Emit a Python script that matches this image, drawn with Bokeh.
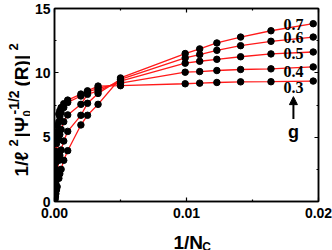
import numpy as np
from bokeh.plotting import figure
from bokeh.layouts import row, column
from bokeh.models import Range1d, FixedTicker, LinearAxis, Label, Arrow, NormalHead, PrintfTickFormatter
from bokeh.embed import file_html
from bokeh.resources import INLINE

# ---- data ----
inv_nc = [0.0196, 0.0164, 0.0141, 0.0123, 0.0110, 0.0099, 0.0050, 0.0033, 0.0025,
          0.0020, 0.0010, 0.0007, 0.0005, 0.0004, 0.00033, 0.0002, 0.00015, 0.0001,
          0.00007, 0.00005, 0.00003, 0.00001]
g_labels = ["0.3", "0.4", "0.5", "0.6", "0.7"]
g03 = [9.36, 9.31, 9.30, 9.25, 9.20, 9.15, 9.00, 8.97, 8.60, 8.35, 7.88, 7.60, 7.30, 7.05, 6.80, 5.90, 5.40, 4.60, 3.90, 3.20, 2.20, 0.90]
g04 = [10.46, 10.31, 10.26, 10.18, 10.10, 10.05, 9.20, 8.80, 8.50, 8.20, 7.70, 7.30, 6.90, 6.60, 6.20, 5.10, 4.50, 3.70, 3.00, 2.40, 1.60, 0.60]
g05 = [11.62, 11.47, 11.25, 11.05, 10.90, 10.75, 9.35, 8.60, 8.33, 7.55, 6.73, 6.20, 5.60, 5.20, 4.80, 3.70, 3.20, 2.50, 1.90, 1.50, 0.95, 0.35]
g06 = [12.78, 12.45, 12.11, 11.75, 11.42, 11.16, 9.50, 8.40, 7.63, 6.70, 5.45, 4.70, 4.00, 3.60, 3.20, 2.30, 1.90, 1.40, 1.05, 0.80, 0.50, 0.18]
g07 = [13.82, 13.27, 12.78, 12.32, 11.86, 11.50, 9.60, 7.55, 6.70, 5.95, 3.95, 3.20, 2.50, 2.15, 1.80, 1.15, 0.90, 0.60, 0.42, 0.30, 0.18, 0.07]
series = [g03, g04, g05, g06, g07]
x_ticks = [0.0, 0.01, 0.02]
x_minor = [0.005, 0.015]
y_ticks = [0, 5, 10, 15]
y_minor = [2.5, 7.5, 12.5]

# ---- layout sizes (page origin is the top-left of the window) ----
TW, TH = 332, 250
YW = 30                 # width of the y-title strip
MW, MH = TW - YW, 221   # main figure
BL, BR, BT, BB = 24, 14, 8, 20
XH = TH - MH            # height of the x-title strip
X0, X1, Y0, Y1 = 0.0, 0.02, 0.0, 15.0

p = figure(width=MW, height=MH, output_backend="svg", toolbar_location=None,
           x_range=Range1d(X0, X1), y_range=Range1d(Y0, Y1),
           min_border_left=BL, min_border_right=BR, min_border_top=BT, min_border_bottom=BB,
           x_axis_type=None, y_axis_type=None)
p.grid.visible = False
p.outline_line_color = "black"
p.outline_line_width = 1.5
p.background_fill_color = "white"
p.border_fill_color = "white"

def make_axis(show_labels, ticks, minor):
    ax = LinearAxis()
    ax.ticker = FixedTicker(ticks=ticks, minor_ticks=minor)
    ax.axis_line_width = 1.5
    ax.major_tick_in = 4
    ax.major_tick_out = 0
    ax.minor_tick_in = 2
    ax.minor_tick_out = 0
    ax.major_tick_line_width = 1.2
    ax.minor_tick_line_width = 1.2
    ax.major_label_text_font = "Liberation Sans"
    ax.major_label_text_font_style = "bold"
    ax.major_label_text_font_size = "14px"
    ax.major_label_text_color = "black"
    if not show_labels:
        ax.major_label_overrides = {t: "" for t in ticks}
    return ax

xb = make_axis(True, x_ticks, x_minor)
xb.formatter = PrintfTickFormatter(format="%.2f")
xb.major_label_standoff = 6
p.add_layout(xb, "below")
yl = make_axis(True, y_ticks, y_minor)
yl.major_label_standoff = 4
p.add_layout(yl, "left")
p.add_layout(make_axis(False, x_ticks, x_minor), "above")
p.add_layout(make_axis(False, y_ticks, y_minor), "right")

for ys in series:
    p.line(inv_nc, ys, line_color="#ff1a1a", line_width=1.3)
for ys in series:
    p.scatter(inv_nc, ys, size=6.5, fill_color="black", line_color="black")

# series labels
label_y = [8.89, 10.13, 11.54, 12.76, 13.74]
for txt, ly in zip(g_labels, label_y):
    p.add_layout(Label(x=0.0181, y=ly, text=txt, text_align="center", text_baseline="middle",
                       text_font="Liberation Serif", text_font_style="bold",
                       text_font_size="16px", text_color="black"))

p.add_layout(Arrow(end=NormalHead(size=8, fill_color="black", line_color="black", line_width=1),
                   x_start=0.0181, y_start=6.42, x_end=0.0181, y_end=8.15,
                   line_color="black", line_width=2))
p.add_layout(Label(x=0.0181, y=5.4, text="g", text_align="center", text_baseline="middle",
                   text_font="Liberation Sans", text_font_style="bold",
                   text_font_size="18px", text_color="black"))

# ---- title strips (figures whose frame is their whole canvas, pixel ranges) ----
def strip(w, h):
    f = figure(width=w, height=h, output_backend="svg", toolbar_location=None,
               x_range=Range1d(0, w), y_range=Range1d(0, h),
               min_border=0, x_axis_type=None, y_axis_type=None)
    f.grid.visible = False
    f.outline_line_color = None
    f.background_fill_color = "white"
    f.border_fill_color = "white"
    return f

def lab(f, x, y, t, size, angle=0.0):
    f.add_layout(Label(x=x, y=y, text=t, angle=angle, text_align="left",
                       text_baseline="alphabetic", text_font="Liberation Sans",
                       text_font_style="bold", text_font_size=size, text_color="black"))

# y title: window coords (X, Y) -> strip coords (X, TH-Y)
fy = strip(YW, TH)
A = np.pi / 2
def ylab(X, Y, t, size):
    lab(fy, X, TH - Y, t, size, A)
ylab(21, 176, "1/\u2113", "19px")
ylab(13, 146, "2", "13px")
ylab(21, 137, "|\u03a8", "19px")
ylab(26, 116, "0", "11px")
ylab(13, 114, "-1/2", "14px")
ylab(21, 86, "(R)|", "19px")
ylab(13, 50, "2", "13px")

# x title strip below main figure: window X -> X-YW, window Y -> TH-Y
fx = strip(MW, XH)
def xlab(X, Y, t, size):
    lab(fx, X - YW, TH - Y, t, size)
xlab(166, 242, "1/N", "19px")
xlab(199, 246, "C", "12px")

layout = row(fy, column(p, fx, spacing=0), spacing=0)
open("out.html", "w").write(file_html(layout, INLINE))
